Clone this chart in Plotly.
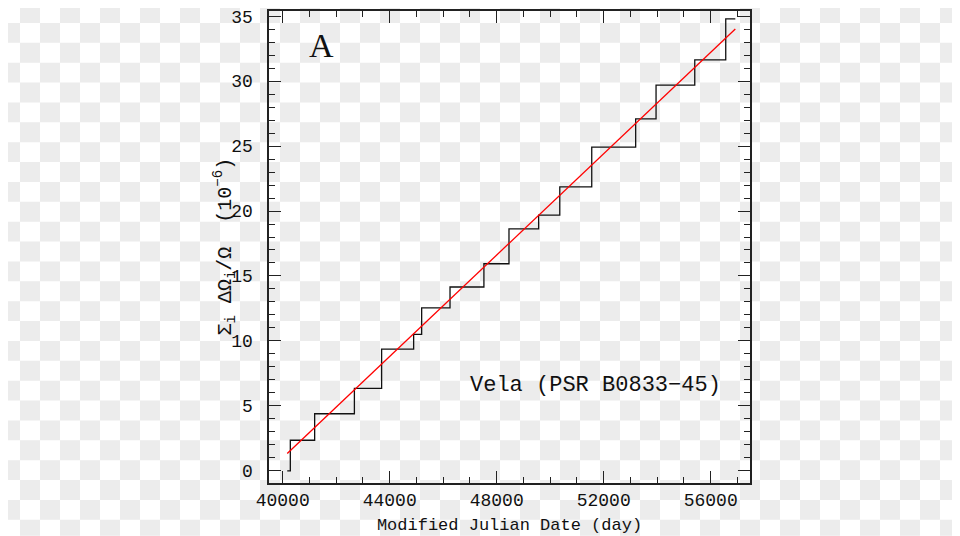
import plotly.graph_objects as go

# Glitch epochs (MJD) and cumulative glitch size (10^-6)
step_mjd = [40170, 40285, 41195, 42680, 43698, 44895, 45195, 46255, 47522, 48459,
            49568, 50358, 51553, 53195, 53957, 55404, 56562, 56920]
step_cum = [0.0, 2.35, 4.39, 6.35, 9.36, 10.51, 12.55, 14.15, 15.94, 18.62,
            19.69, 21.86, 24.92, 27.09, 29.69, 31.63, 34.79, 34.79]

# Linear fit endpoints
fit_mjd = [40170, 56920]
fit_cum = [1.33, 34.02]

x_ticks = [40000, 44000, 48000, 52000, 56000]
y_ticks = [0, 5, 10, 15, 20, 25, 30, 35]

W, H = 960, 536
OFF = 8                      # default page body margin
PL, PR, PT, PB = 269, 750, 8, 483   # plot box in page pixels
pw, ph = PR - PL, PB - PT

fig = go.Figure()
fig.add_trace(go.Scatter(x=step_mjd, y=step_cum, mode="lines",
                         line=dict(shape="hv", color="#111111", width=1.3),
                         showlegend=False, hoverinfo="skip"))
fig.add_trace(go.Scatter(x=fit_mjd, y=fit_cum, mode="lines",
                         line=dict(color="#ff0000", width=1.3),
                         showlegend=False, hoverinfo="skip"))

# checkerboard background (transparency pattern of the original), page pixels
def px(x):
    return (x - PL) / pw
def py(y):
    return (PB - y) / ph
parts = []
for row in range((H + 19) // 20):
    for col in range(W // 20):
        if (row + col) % 2 == 1:
            x0, x1 = col * 20, col * 20 + 20
            y0, y1 = row * 20, min(row * 20 + 20, H)
            parts.append("M%.5f,%.5f L%.5f,%.5f L%.5f,%.5f L%.5f,%.5f Z" % (
                px(x0), py(y0), px(x1), py(y0), px(x1), py(y1), px(x0), py(y1)))
fig.add_shape(type="path", xref="paper", yref="paper", path=" ".join(parts),
              fillcolor="#ececec", line=dict(width=0), layer="below")

tickfont = dict(family="Liberation Mono", size=18, color="#111111")
fig.update_xaxes(range=[39488, 57469], tickvals=x_ticks, ticktext=[str(v) for v in x_ticks],
                 ticks="inside", ticklen=12, tickwidth=1.3, tickcolor="#222222",
                 minor=dict(dtick=1000, tick0=40000, ticks="inside", ticklen=6,
                            tickwidth=1.3, tickcolor="#222222"),
                 showline=True, linecolor="#222222", linewidth=1.5, mirror="allticks",
                 showgrid=False, zeroline=False, tickfont=tickfont, ticklabeloverflow="allow",
                 title=dict(text="Modified Julian Date (day)",
                            font=dict(family="Liberation Mono", size=17, color="#111111"),
                            standoff=8))
fig.update_yaxes(range=[-0.94, 35.40], tickvals=y_ticks, ticktext=[str(v) + " " for v in y_ticks],
                 ticks="inside", ticklen=12, tickwidth=1.3, tickcolor="#222222",
                 minor=dict(dtick=1, tick0=0, ticks="inside", ticklen=6,
                            tickwidth=1.3, tickcolor="#222222"),
                 showline=True, linecolor="#222222", linewidth=1.5, mirror="allticks",
                 showgrid=False, zeroline=False, tickfont=tickfont, ticklabeloverflow="allow")

fig.add_annotation(xref="paper", yref="paper", x=px(225), y=py(245),
                   text="Σ<sub>i</sub> ΔΩ<sub>i</sub>/Ω  (10<sup>−6</sup>)",
                   textangle=-90, showarrow=False, xanchor="center", yanchor="middle",
                   font=dict(family="Liberation Mono", size=20, color="#111111"))
fig.add_annotation(x=41458, y=32.76, text="A", showarrow=False,
                   font=dict(family="Liberation Serif", size=34, color="#111111"))
fig.add_annotation(x=51693, y=6.56, text="Vela (PSR B0833−45)", showarrow=False,
                   font=dict(family="Liberation Mono", size=22, color="#111111"))

fig.update_layout(width=W, height=H,
                  margin=dict(l=PL - OFF, r=W - (PR - OFF), t=PT - OFF, b=H - (PB - OFF)),
                  paper_bgcolor="#ffffff", plot_bgcolor="rgba(0,0,0,0)")
fig.write_html("out.html", config={"displayModeBar": False})
